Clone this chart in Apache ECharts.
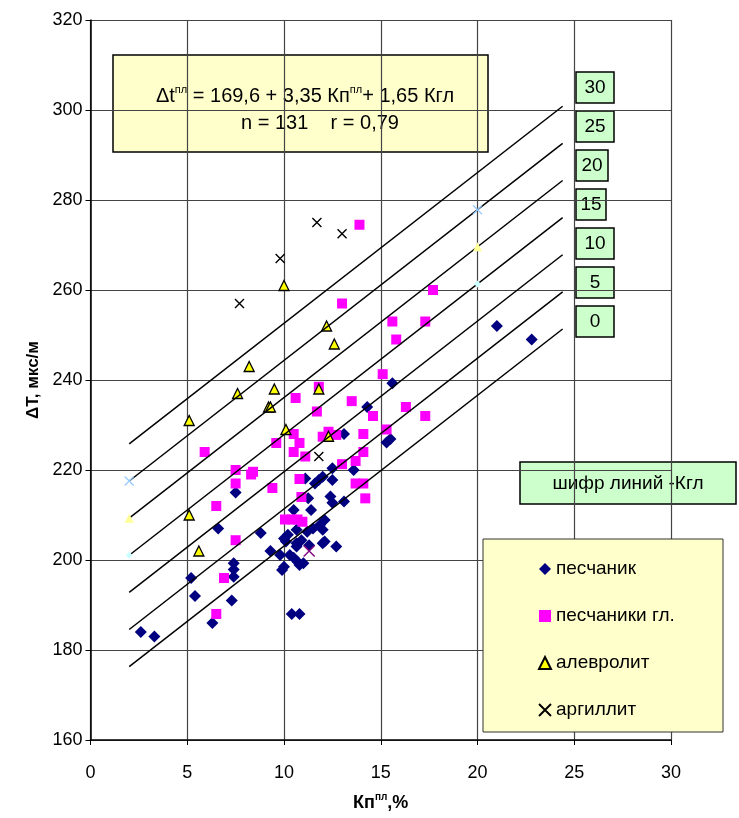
<!DOCTYPE html>
<html>
<head>
<meta charset="utf-8">
<script src="https://cdn.jsdelivr.net/npm/echarts@6/dist/echarts.min.js"></script>
<style>
html, body { margin: 0; padding: 0; background: #fff; }
#chart { width: 739px; height: 818px; }
</style>
</head>
<body>
<div id="chart"></div>
<script>
// axis ticks
var xTicks = [0, 5, 10, 15, 20, 25, 30]
var yTicks = [160, 180, 200, 220, 240, 260, 280, 300, 320]

// regression: dt = 169.6 + 3.35*Kp + 1.65*Kgl, one line per Kgl value
var kglValues = [30, 25, 20, 15, 10, 5, 0]
var coefA = 169.6
var coefKp = 3.35
var coefKgl = 1.65
var lineFrom = 2
var lineTo = 24.4

// points [Kp, dT]
var sandstone = [
  [2.6, 184], [3.3, 183], [5.2, 196], [5.4, 192], [6.3, 186], [6.6, 207],
  [7.3, 191], [7.4, 199.3], [7.4, 197.9], [7.4, 196.3], [7.5, 215], [8.8, 206],
  [9.3, 202], [9.8, 201.1], [10.0, 198.5], [9.9, 197.8], [10.3, 201.1], [10.7, 199.6],
  [11.0, 199.3], [10.1, 204.1], [10.65, 203.7], [11.3, 203.3], [12.0, 203.7], [10.4, 188],
  [10.8, 188], [12.5, 220.4], [13.6, 220], [11.8, 217.8], [12.0, 218.5], [12.5, 217.8],
  [11.6, 217], [11.1, 218.1], [11.25, 213.7], [12.4, 214.1], [12.5, 212.7], [13.1, 213],
  [10.5, 211.1], [11.4, 211.1], [12.1, 208.9], [11.85, 207.8], [12.0, 206.7], [11.5, 207],
  [11.2, 206.3], [10.65, 206.7], [10.2, 205.6], [10.0, 204.8], [10.9, 204.4], [10.65, 203],
  [12.1, 204.1], [12.7, 203], [10.8, 198.9], [10.5, 200.5], [15.6, 239.3], [14.3, 234],
  [13.1, 228], [15.3, 226.1], [15.5, 226.9], [21.0, 252], [22.8, 249]
]
var clayeySandstone = [
  [13.9, 274.5], [17.7, 260], [13.0, 257], [15.6, 253], [17.3, 253], [15.8, 249],
  [15.1, 241.3], [11.8, 238.5], [10.6, 236], [13.5, 235.3], [16.3, 234], [11.7, 233],
  [14.6, 232], [17.3, 232], [15.3, 229], [12.0, 227.4], [12.7, 227.8], [14.1, 228],
  [10.5, 228], [10.8, 226], [9.6, 226], [10.5, 224], [11.1, 223], [14.1, 224],
  [13.7, 222], [13.0, 221.3], [5.9, 224], [10.8, 218], [13.7, 217], [14.1, 217],
  [14.2, 213.7], [10.9, 214], [9.4, 216], [7.5, 217], [8.4, 219.6], [8.3, 219],
  [7.5, 220], [7.5, 204.4], [6.5, 212], [10.05, 209], [10.4, 209], [10.7, 209],
  [10.95, 208.5], [6.9, 196], [6.5, 188], [12.3, 228.5]
]
var siltstone = [
  [5.1, 231], [5.1, 210], [5.6, 202], [7.6, 237], [8.2, 243], [9.2, 234], [9.3, 234],
  [9.5, 238], [10.0, 261], [10.1, 229], [11.8, 238], [12.2, 252], [12.6, 248], [12.3, 227.5]
]
var argillite = [
  [7.7, 257], [9.8, 267], [11.7, 275], [13.0, 272.5], [11.8, 223]
]
var argilliteOther = [[11.3, 202]]

var seriesNames = ['песчаник', 'песчаники гл.', 'алевролит', 'аргиллит']

var FONT = 'Liberation Sans, Arial, sans-serif'
var NARROW = 'Liberation Sans Narrow, Liberation Sans, Arial, sans-serif'
var crossPath = 'path://M0,0L10,10M10,0L0,10'

function dt(kp, kgl) {
  return coefA + coefKp * kp + coefKgl * kgl
}

var myChart = echarts.init(document.getElementById('chart'))

var series = [
  {
    name: seriesNames[0],
    type: 'scatter',
    symbol: 'diamond',
    symbolSize: 12,
    itemStyle: { color: '#000080', opacity: 1 },
    data: sandstone,
    z: 2
  },
  {
    name: seriesNames[1],
    type: 'scatter',
    symbol: 'rect',
    symbolSize: 10,
    itemStyle: { color: '#ff00ff', opacity: 1 },
    data: clayeySandstone,
    z: 2
  },
  {
    name: seriesNames[2],
    type: 'scatter',
    symbol: 'triangle',
    symbolSize: 10,
    itemStyle: { color: '#ffff00', borderColor: '#000', borderWidth: 1.3, opacity: 1 },
    data: siltstone,
    z: 2
  },
  {
    name: seriesNames[3],
    type: 'scatter',
    symbol: crossPath,
    symbolSize: 9,
    itemStyle: { color: '#000', borderColor: '#000', borderWidth: 1.4, opacity: 1 },
    data: argillite,
    z: 2
  },
  {
    name: 'other',
    type: 'scatter',
    symbol: crossPath,
    symbolSize: 11,
    itemStyle: { color: '#800080', borderColor: '#800080', borderWidth: 1.4, opacity: 1 },
    data: argilliteOther,
    z: 2
  }
]

// regression lines
kglValues.forEach(function (k) {
  series.push({
    name: 'Kgl ' + k,
    type: 'line',
    symbol: 'none',
    silent: true,
    lineStyle: { color: '#000', width: 1.5 },
    data: [[lineFrom, dt(lineFrom, k)], [lineTo, dt(lineTo, k)]],
    z: 3
  })
})

// faint end markers left from the line series (Kgl 25, 20, 15)
var endMarks = [
  { k: 25, symbol: crossPath, size: 9, color: '#99ccff' },
  { k: 20, symbol: 'triangle', size: 9, color: '#ffff99' },
  { k: 15, symbol: 'diamond', size: 7, color: '#ccffff' }
]
endMarks.forEach(function (m) {
  series.push({
    name: 'end ' + m.k,
    type: 'scatter',
    symbol: m.symbol,
    symbolSize: m.size,
    silent: true,
    itemStyle: { color: m.color, borderColor: m.color, borderWidth: m.symbol === crossPath ? 1.3 : 0, opacity: 1 },
    data: [[lineFrom, dt(lineFrom, m.k)], [20, dt(20, m.k)]],
    z: 4
  })
})

// boxes with the Kgl value of each line
var boxW = { 30: 38, 25: 38, 20: 32, 15: 30, 10: 38, 5: 38, 0: 38 }
var graphics = []
kglValues.forEach(function (k, i) {
  var top = 72 + i * 39
  graphics.push({
    type: 'group',
    z: 5,
    children: [
      {
        type: 'rect',
        shape: { x: 576, y: top, width: boxW[k], height: 31 },
        style: { fill: '#ccffcc', stroke: '#000', lineWidth: 1.5 }
      },
      {
        type: 'text',
        x: 576 + boxW[k] / 2,
        y: top + 16,
        style: {
          text: String(k),
          font: '19px ' + FONT,
          fill: '#000',
          align: 'center',
          verticalAlign: 'middle'
        }
      }
    ]
  })
})

// formula box
graphics.push({
  type: 'group',
  z: 5,
  children: [
    {
      type: 'rect',
      shape: { x: 113, y: 55, width: 375, height: 97 },
      style: { fill: '#ffffcc', stroke: '#000', lineWidth: 1.5 }
    },
    {
      type: 'text',
      x: 305,
      y: 96,
      style: {
        text: '{m|Δt}{s|пл}{m| = 169,6 + 3,35 Кп}{s|пл}{m|+ 1,65 Кгл}',
        align: 'center',
        verticalAlign: 'middle',
        rich: {
          m: { font: '20px ' + FONT, fill: '#000', lineHeight: 24 },
          s: { font: '11px ' + FONT, fill: '#000', verticalAlign: 'top', lineHeight: 24 }
        }
      }
    },
    {
      type: 'text',
      x: 320,
      y: 123,
      style: {
        text: 'n = 131    r = 0,79',
        font: '20px ' + FONT,
        fill: '#000',
        align: 'center',
        verticalAlign: 'middle'
      }
    }
  ]
})

// "line code" box
graphics.push({
  type: 'group',
  z: 5,
  children: [
    {
      type: 'rect',
      shape: { x: 520, y: 462, width: 216, height: 42 },
      style: { fill: '#ccffcc', stroke: '#000', lineWidth: 1.5 }
    },
    {
      type: 'text',
      x: 628,
      y: 484,
      style: {
        text: 'шифр линий -Кгл',
        font: '19px ' + FONT,
        fill: '#000',
        align: 'center',
        verticalAlign: 'middle'
      }
    }
  ]
})

// legend background
graphics.push({
  type: 'rect',
  z: 5,
  shape: { x: 483, y: 539, width: 240, height: 193 },
  style: { fill: '#ffffcc', stroke: '#333', lineWidth: 1 }
})

myChart.setOption({
  animation: false,
  grid: {
    left: 90.5,
    right: 68,
    top: 20,
    bottom: 78
  },
  xAxis: {
    type: 'value',
    min: xTicks[0],
    max: xTicks[xTicks.length - 1],
    interval: 5,
    name: '{b|Кп}{s|пл}{b|,%}',
    nameLocation: 'middle',
    nameGap: 52,
    nameTextStyle: {
      rich: {
        b: { fontFamily: NARROW, fontWeight: 'bold', fontSize: 18, color: '#000', lineHeight: 22 },
        s: { fontFamily: NARROW, fontWeight: 'bold', fontSize: 10, color: '#000', lineHeight: 22, verticalAlign: 'top' }
      }
    },
    axisLine: { lineStyle: { color: '#000', width: 1.5 } },
    axisTick: { length: 5, lineStyle: { color: '#000' } },
    axisLabel: { fontFamily: NARROW, fontSize: 18, color: '#000', margin: 24 },
    splitLine: { show: true, lineStyle: { color: '#444', width: 1.2 } }
  },
  yAxis: {
    type: 'value',
    min: yTicks[0],
    max: yTicks[yTicks.length - 1],
    interval: 20,
    name: 'ΔT, мкс/м',
    nameLocation: 'middle',
    nameGap: 44,
    nameTextStyle: { fontFamily: FONT, fontWeight: 'bold', fontSize: 17, color: '#000' },
    axisLine: { show: true, lineStyle: { color: '#000', width: 1.5 } },
    axisTick: { show: true, length: 5, lineStyle: { color: '#000' } },
    axisLabel: { fontFamily: NARROW, fontSize: 18, color: '#000', margin: 8 },
    splitLine: { show: true, lineStyle: { color: '#444', width: 1.2 } }
  },
  legend: {
    data: seriesNames,
    orient: 'vertical',
    left: 533,
    top: 554,
    z: 10,
    itemWidth: 12,
    itemHeight: 12,
    itemGap: 27,
    selectedMode: false,
    textStyle: { fontFamily: FONT, fontSize: 19, color: '#000', lineHeight: 20 }
  },
  graphic: graphics,
  series: series
})
</script>
</body>
</html>
